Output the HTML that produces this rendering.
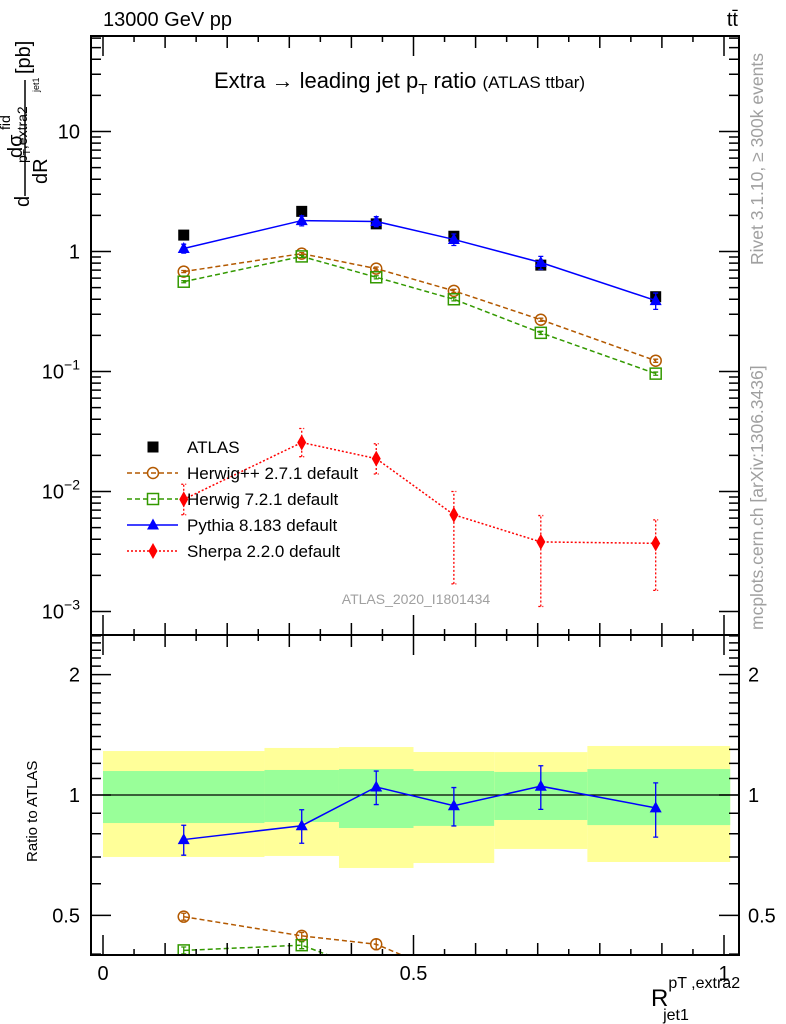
<!DOCTYPE html>
<html><head><meta charset="utf-8"><style>
html,body{margin:0;padding:0;background:#fff;width:786px;height:1024px;overflow:hidden;}
svg{display:block;font-family:"Liberation Sans",sans-serif;overflow:hidden;}
</style></head><body>
<svg id="chart" width="786" height="1024" viewBox="0 0 786 1024" xmlns="http://www.w3.org/2000/svg">
<defs>
<clipPath id="clipMain"><rect x="91" y="36" width="648" height="599"/></clipPath>
<clipPath id="clipRatio"><rect x="91" y="635" width="648" height="320"/></clipPath>
</defs>
<g id="bands" clip-path="url(#clipRatio)"></g>
<g id="marks"></g>
<g id="axes"></g>
<text x="103" y="26" font-size="20">13000 GeV pp</text>
<text x="738" y="26" font-size="20" text-anchor="end">tt̄</text>
<text x="214" y="88" font-size="22">Extra → leading jet p<tspan font-size="15" dy="6">T</tspan><tspan dy="-6"> ratio </tspan><tspan font-size="17">(ATLAS ttbar)</tspan></text>
<text x="416" y="604" font-size="14" fill="#a0a0a0" text-anchor="middle">ATLAS_2020_I1801434</text>
<g font-size="20">
<text transform="translate(29,207) rotate(-90)">d</text>
<line x1="25" y1="80" x2="25" y2="196" stroke="#000" stroke-width="1.5"/>
<text transform="translate(22,158) rotate(-90)">dσ</text>
<text transform="translate(10,130) rotate(-90)" font-size="14">fid</text>
<text transform="translate(27,163) rotate(-90)" font-size="14">p<tspan dy="3" font-size="10">T</tspan><tspan dy="-3">,extra2</tspan></text>
<text transform="translate(47,184) rotate(-90)">dR</text>
<text transform="translate(39,92) rotate(-90)" font-size="9">jet1</text>
<text transform="translate(30,74) rotate(-90)">[pb]</text>
</g>
<text transform="translate(37,862) rotate(-90)" font-size="15">Ratio to ATLAS</text>
<text x="651" y="1006" font-size="24">R<tspan font-size="16" dy="-18">pT ,extra2</tspan><tspan font-size="16" dx="-77" dy="32">jet1</tspan></text>
<text transform="translate(763,265) rotate(-90)" font-size="17.5" fill="#a0a0a0">Rivet 3.1.10, ≥ 300k events</text>
<text transform="translate(763,630) rotate(-90)" font-size="17.5" fill="#a0a0a0">mcplots.cern.ch [arXiv:1306.3436]</text>
<g id="legend"></g>
</svg>
<script>
const categories = [0.13, 0.32, 0.44, 0.565, 0.705, 0.89];
const binEdges = [0, 0.26, 0.38, 0.5, 0.63, 0.78, 1.01];
const atlas = [1.37, 2.16, 1.70, 1.34, 0.77, 0.42];
const herwigpp = [0.68, 0.96, 0.72, 0.47, 0.27, 0.123];
const herwig7 = [0.56, 0.91, 0.61, 0.40, 0.21, 0.096];
const pythia = [1.06, 1.81, 1.78, 1.26, 0.81, 0.39];
const pythiaRelErr = [0.086, 0.096, 0.096, 0.11, 0.125, 0.155];
const sherpa = [0.0086, 0.0256, 0.0188, 0.0064, 0.0038, 0.0037];
const sherpaLo = [0.0064, 0.0195, 0.0140, 0.0017, 0.0011, 0.0015];
const sherpaHi = [0.0115, 0.0335, 0.0250, 0.0100, 0.0063, 0.0058];
const herwigRelErr = [0.02, 0.02, 0.03, 0.03, 0.03, 0.03];
const yellowLo = [0.70, 0.704, 0.657, 0.676, 0.733, 0.68];
const yellowHi = [1.288, 1.311, 1.318, 1.281, 1.28, 1.326];
const greenLo = [0.851, 0.856, 0.827, 0.837, 0.866, 0.841];
const greenHi = [1.148, 1.155, 1.161, 1.148, 1.142, 1.161];
const mainTicks = [10, 1, 0.1, 0.01, 0.001];
const mainTickLabels = ["10", "1", "10^-1", "10^-2", "10^-3"];
const ratioTicks = [0.5, 1, 2];
const ratioTickLabels = ["0.5", "1", "2"];
const xTicks = [0, 0.5, 1];
const xTickLabels = ["0", "0.5", "1"];

const NS = "http://www.w3.org/2000/svg";
const L = 91, R = 739, TOP = 36, MB = 635, RB = 955;
const xs = v => 103 + 621 * v;
const ym = v => 251.5 - 120 * Math.log10(v);
const yr = v => 795 - 400 * Math.log10(v);
function mk(tag, attrs, parent) { const e = document.createElementNS(NS, tag); for (const k in attrs) e.setAttribute(k, attrs[k]); parent.appendChild(e); return e; }
const bands = document.getElementById('bands');
const marks = document.getElementById('marks');
const axes = document.getElementById('axes');
const legend = document.getElementById('legend');

for (let i = 0; i < categories.length; i++) {
  const x0 = xs(binEdges[i]), x1 = xs(binEdges[i + 1]);
  const y = mk('rect', { x: x0, y: yr(yellowHi[i]), width: x1 - x0, height: yr(yellowLo[i]) - yr(yellowHi[i]), fill: '#ffff99' }, bands);
  
  
  const g = mk('rect', { x: x0, y: yr(greenHi[i]), width: x1 - x0, height: yr(greenLo[i]) - yr(greenHi[i]), fill: '#99ff99' }, bands);
  
  
}
const one = mk('line', { x1: L, x2: R, y1: yr(1), y2: yr(1), stroke: '#000', 'stroke-width': 1.3 }, bands);



function marker(type, x, y, color, parent) {
  let e;
  if (type === 'square') e = mk('rect', { x: x - 5.5, y: y - 5.5, width: 11, height: 11, fill: color }, parent);
  else if (type === 'circle') e = mk('circle', { cx: x, cy: y, r: 5.5, fill: 'none', stroke: color, 'stroke-width': 1.5 }, parent);
  else if (type === 'osquare') e = mk('rect', { x: x - 5.5, y: y - 5.5, width: 11, height: 11, fill: 'none', stroke: color, 'stroke-width': 1.5 }, parent);
  else if (type === 'tri') e = mk('path', { d: `M${x},${y - 6.5}L${x + 6},${y + 4.5}L${x - 6},${y + 4.5}Z`, fill: color }, parent);
  else e = mk('path', { d: `M${x},${y - 8}L${x + 4.5},${y}L${x},${y + 8}L${x - 4.5},${y}Z`, fill: color }, parent);
  return e;
}
function series(name, vals, lo, hi, color, dash, type, yf, clip) {
  const g = mk('g', { 'clip-path': clip }, marks);
  
  
  const pts = vals.map((v, i) => [xs(categories[i]), yf(v)]);
  const pl = mk('polyline', { points: pts.map(p => p.join(',')).join(' '), fill: 'none', stroke: color, 'stroke-width': 1.5 }, g);
  if (dash) pl.setAttribute('stroke-dasharray', dash);
  
  
  vals.forEach((v, i) => {
    const x = pts[i][0];
    if (lo) {
      const eb = mk('path', { d: `M${x},${yf(lo[i])}V${yf(hi[i])}M${x - 2.5},${yf(lo[i])}h5M${x - 2.5},${yf(hi[i])}h5`, stroke: color, 'stroke-width': 1.3, fill: 'none' }, g);
      if (dash === '2,2') eb.setAttribute('stroke-dasharray', '2,2');
      
      
    }
    const m = marker(type, x, pts[i][1], color, g);
    
    
  });
}
const mainClip = 'url(#clipMain)', ratClip = 'url(#clipRatio)';
series('herwigpp-2-7-1', herwigpp, herwigpp.map((v,i)=>v*(1-herwigRelErr[i])), herwigpp.map((v,i)=>v*(1+herwigRelErr[i])), '#b35900', '5,3', 'circle', ym, mainClip);
series('herwig-7-2-1', herwig7, herwig7.map((v,i)=>v*(1-herwigRelErr[i])), herwig7.map((v,i)=>v*(1+herwigRelErr[i])), '#339900', '5,3', 'osquare', ym, mainClip);
series('sherpa-2-2-0', sherpa, sherpaLo, sherpaHi, '#ff0000', '2,2', 'diamond', ym, mainClip);
{
  const g = mk('g', {}, marks);
  
  
  atlas.forEach((v, i) => {
    const m = marker('square', xs(categories[i]), ym(v), '#000', g);
    
    
  });
}
series('pythia-8-183', pythia, pythia.map((v,i)=>v*(1-pythiaRelErr[i])), pythia.map((v,i)=>v*(1+pythiaRelErr[i])), '#0000ff', '', 'tri', ym, mainClip);
const rat = arr => arr.map((v, i) => v / atlas[i]);
const rHpp = rat(herwigpp), rH7 = rat(herwig7), rPy = rat(pythia);
series('herwigpp-ratio', rHpp, rHpp.map((v,i)=>v*(1-herwigRelErr[i])), rHpp.map((v,i)=>v*(1+herwigRelErr[i])), '#b35900', '5,3', 'circle', yr, ratClip);
series('herwig7-ratio', rH7, rH7.map((v,i)=>v*(1-herwigRelErr[i])), rH7.map((v,i)=>v*(1+herwigRelErr[i])), '#339900', '5,3', 'osquare', yr, ratClip);
series('sherpa-ratio', rat(sherpa), null, null, '#ff0000', '2,2', 'diamond', yr, ratClip);
series('pythia-ratio', rPy, rPy.map((v,i)=>v*(1-pythiaRelErr[i])), rPy.map((v,i)=>v*(1+pythiaRelErr[i])), '#0000ff', '', 'tri', yr, ratClip);

for (const [t, b, nm] of [[TOP, MB, 'main-frame'], [MB, RB, 'ratio-frame']]) {
  const f = mk('rect', { x: L, y: t, width: R - L, height: b - t, fill: 'none', stroke: '#000', 'stroke-width': 2 }, axes);
  
  
}
let tp = '';
for (let k = 0; k <= 20; k++) {
  const v = k * 0.05, x = xs(v);
  if (x > R) break;
  const len = (k % 10 === 0) ? 20 : (k % 2 === 0 ? 12 : 6);
  tp += `M${x},${TOP}v${len}M${x},${MB}v${-len}M${x},${MB}v${len}M${x},${RB}v${-len}`;
}
for (let d = -3; d <= 1; d++) {
  for (let m = 1; m <= 9; m++) {
    const v = m * Math.pow(10, d), y = ym(v);
    if (y < TOP || y > MB) continue;
    const len = m === 1 ? 20 : 10;
    tp += `M${L},${y}h${len}M${R},${y}h${-len}`;
  }
}
for (let k = 4; k <= 25; k++) {
  const v = k / 10, y = yr(v);
  if (y < MB || y > RB) continue;
  const len = (k === 5 || k === 10 || k === 20) ? 20 : 10;
  tp += `M${L},${y}h${len}M${R},${y}h${-len}`;
}
const tk = mk('path', { d: tp, stroke: '#000', 'stroke-width': 1.5, fill: 'none' }, axes);



mainTicks.forEach((v, i) => {
  const lab = mainTickLabels[i];
  const t = mk('text', { x: 80, y: ym(v) + 7, 'font-size': 20, 'text-anchor': 'end' }, axes);
  
  
  if (lab.indexOf('^') >= 0) {
    const [b, e] = lab.split('^');
    t.textContent = b;
    const s = mk('tspan', { dy: -9, 'font-size': 14 }, t);
    s.textContent = e.replace('-', '−');
  } else t.textContent = lab;
});
ratioTicks.forEach((v, i) => {
  for (const [x, anc] of [[80, 'end'], [748, 'start']]) {
    const t = mk('text', { x: x, y: yr(v) + 7, 'font-size': 20, 'text-anchor': anc }, axes);
    
    
    t.textContent = ratioTickLabels[i];
  }
});
xTicks.forEach((v, i) => {
  const t = mk('text', { x: xs(v), y: 980, 'font-size': 20, 'text-anchor': 'middle' }, axes);
  
  
  t.textContent = xTickLabels[i];
});

const legItems = [
  ['ATLAS', '#000', null, 'square'],
  ['Herwig++ 2.7.1 default', '#b35900', '5,3', 'circle'],
  ['Herwig 7.2.1 default', '#339900', '5,3', 'osquare'],
  ['Pythia 8.183 default', '#0000ff', '', 'tri'],
  ['Sherpa 2.2.0 default', '#ff0000', '2,2', 'diamond']
];
legItems.forEach((it, i) => {
  const y = 447 + i * 26;
  const g = mk('g', {}, legend);
  
  
  if (it[2] !== null) {
    const l = mk('line', { x1: 127, x2: 178, y1: y, y2: y, stroke: it[1], 'stroke-width': 1.5 }, g);
    if (it[2]) l.setAttribute('stroke-dasharray', it[2]);
  }
  marker(it[3], 153, y, it[1], g);
  const t = mk('text', { x: 187, y: y + 6, 'font-size': 17 }, g);
  t.textContent = it[0];
});
</script>
</body></html>
